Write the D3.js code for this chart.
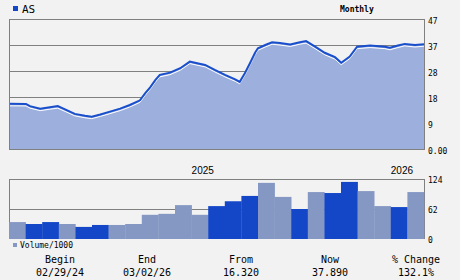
<!DOCTYPE html>
<html>
<head>
<meta charset="utf-8">
<script src="https://cdn.jsdelivr.net/npm/d3@7"></script>
<style>
  body { margin: 0; background: #f2f2f2; }
  svg { display: block; }
  text { font-family: "DejaVu Sans Mono", monospace; fill: #000; }
</style>
</head>
<body>
<script>
// price samples
var priceDates = ["2024-02-29","2024-03-30","2024-04-06","2024-04-24","2024-05-11","2024-05-25",
  "2024-06-07","2024-06-24","2024-07-12","2024-07-24","2024-08-08","2024-08-25","2024-09-12",
  "2024-09-29","2024-10-17","2024-10-26","2024-11-04","2024-11-13","2024-11-21","2024-12-09",
  "2024-12-27","2025-01-13","2025-01-22","2025-02-09","2025-02-26","2025-03-16","2025-04-03",
  "2025-04-11","2025-04-20","2025-04-29","2025-05-08","2025-05-13","2025-05-26","2025-06-07",
  "2025-06-21","2025-07-09","2025-07-26","2025-08-06","2025-08-22","2025-09-08","2025-09-26",
  "2025-10-07","2025-10-22","2025-11-04","2025-11-27","2025-12-23","2026-01-01","2026-01-15",
  "2026-01-27","2026-02-14","2026-03-02"];
var priceValues = [16.32,16.3,15.5,14.6,15.1,15.5,
  14.3,12.7,12.0,11.7,12.5,13.5,14.6,
  15.9,17.6,20.1,22.3,24.9,26.8,27.6,
  29.2,31.6,31.2,30.4,28.6,26.8,25.2,
  24.3,27.4,31.0,34.8,36.4,37.6,38.6,
  38.3,37.8,38.6,39.0,37.0,34.8,33.2,
  31.2,33.4,37.0,37.4,37.0,36.6,37.4,
  38.0,37.6,37.89];

var months = ["2024-02","2024-03","2024-04","2024-05","2024-06","2024-07","2024-08","2024-09",
  "2024-10","2024-11","2024-12","2025-01","2025-02","2025-03","2025-04","2025-05","2025-06",
  "2025-07","2025-08","2025-09","2025-10","2025-11","2025-12","2026-01","2026-02"];
var volumes = [35,31,35,31,25,29,29,31,50,52,70,50,68,78,89,116,87,62,97,95,118,99,68,66,97];
var volUp = [0,1,1,0,1,1,0,0,0,0,0,0,1,1,1,0,0,1,0,1,1,0,0,1,0];

var priceTicks = ["0.00","9","18","28","37","47"];
var volTicks = ["0","62","124"];
var yearLabels = [{ month: "2025-01", label: "2025" }, { month: "2026-01", label: "2026" }];

var summaryHeads = ["Begin","End","From","Now","% Change"];
var summaryVals = ["02/29/24","03/02/26","16.320","37.890","132.1%"];

var W = 460, H = 280;
var left = 9, right = 424;
var pTop = 19, pBot = 149;
var vTop = 179, vBot = 239;
var grey = "#808080";

var svg = d3.select("body").append("svg").attr("width", W).attr("height", H);

var parse = d3.timeParse("%Y-%m-%d");
var pts = priceDates.map(function(d, i) { return { date: parse(d), v: priceValues[i] }; });

var x = d3.scaleTime().domain([pts[0].date, pts[pts.length - 1].date]).range([left, right]);
var y = d3.scaleLinear().domain([0, 47]).range([pBot, pTop]);

// price grid
svg.selectAll(".pgrid").data(d3.range(6)).enter().append("line")
  .attr("x1", left).attr("x2", right)
  .attr("y1", function(i) { return pBot - i * (pBot - pTop) / 5 + 0.5; })
  .attr("y2", function(i) { return pBot - i * (pBot - pTop) / 5 + 0.5; })
  .style("stroke", grey);

var area = d3.area().x(function(d) { return x(d.date); }).y0(pBot).y1(function(d) { return y(d.v); });
var line = d3.line().x(function(d) { return x(d.date); }).y(function(d) { return y(d.v); });

svg.append("path").datum(pts).attr("d", area).style("fill", "#9db0dd");
svg.append("path").datum(pts).attr("d", line).attr("transform", "translate(0,2)")
  .style("fill", "none").style("stroke", "#ffffff").style("stroke-width", 1);
svg.append("path").datum(pts).attr("d", line)
  .style("fill", "none").style("stroke", "#1a4fcc").style("stroke-width", 2);

// frame
svg.append("line").attr("x1", left + 0.5).attr("x2", left + 0.5).attr("y1", pTop).attr("y2", pBot + 1).style("stroke", grey);
svg.append("line").attr("x1", right + 0.5).attr("x2", right + 0.5).attr("y1", pTop).attr("y2", pBot + 1).style("stroke", grey);
svg.append("line").attr("x1", left).attr("x2", right + 1).attr("y1", pBot + 0.5).attr("y2", pBot + 0.5).style("stroke", grey);

svg.selectAll(".ptick").data(priceTicks).enter().append("text")
  .attr("x", right + 4)
  .attr("y", function(d, i) { return pBot - i * (pBot - pTop) / 5 + 5; })
  .style("font-size", "8px")
  .text(function(d) { return d; });

// title
svg.append("rect").attr("x", 13).attr("y", 6).attr("width", 5).attr("height", 5).style("fill", "#1447c8");
svg.append("text").attr("x", 22).attr("y", 13).style("font-size", "11px").text("AS");
svg.append("text").attr("x", 340).attr("y", 12).style("font-size", "8px").style("font-weight", "bold").text("Monthly");

// volume
var xb = d3.scaleBand().domain(months).range([left, right]);
var yv = d3.scaleLinear().domain([0, 124]).range([vBot, vTop]);

svg.selectAll(".vgrid").data([62, 124]).enter().append("line")
  .attr("x1", left).attr("x2", right + 1)
  .attr("y1", function(d) { return Math.round(yv(d)) + 0.5; })
  .attr("y2", function(d) { return Math.round(yv(d)) + 0.5; })
  .style("stroke", grey);
svg.append("line").attr("x1", left + 0.5).attr("x2", left + 0.5).attr("y1", vTop).attr("y2", vBot).style("stroke", grey);
svg.append("line").attr("x1", right + 0.5).attr("x2", right + 0.5).attr("y1", vTop).attr("y2", vBot).style("stroke", grey);

svg.selectAll(".bar").data(volumes).enter().append("rect")
  .attr("x", function(d, i) { return xb(months[i]); })
  .attr("width", xb.bandwidth() + 0.3)
  .attr("y", function(d) { return yv(d); })
  .attr("height", function(d) { return vBot - yv(d); })
  .style("fill", function(d, i) { return volUp[i] ? "#1447c8" : "#8598c4"; });

svg.selectAll(".vtick").data(volTicks).enter().append("text")
  .attr("x", right + 4)
  .attr("y", function(d) { return yv(+d) + 4; })
  .style("font-size", "8px")
  .text(function(d) { return d; });

svg.selectAll(".year").data(yearLabels).enter().append("text")
  .attr("x", function(d) { return xb(d.month); })
  .attr("y", 174)
  .style("font-family", "'Liberation Sans', Arial, sans-serif")
  .style("font-size", "10px")
  .text(function(d) { return d.label; });

svg.append("rect").attr("x", 13).attr("y", 243).attr("width", 4).attr("height", 4).style("fill", "#8598c4");
svg.append("text").attr("x", 20).attr("y", 248).style("font-size", "8px").text("Volume/1000");

// summary
var cols = [60, 147, 241, 330, 416];
svg.selectAll(".shead").data(summaryHeads).enter().append("text")
  .attr("x", function(d, i) { return cols[i]; }).attr("y", 263)
  .attr("text-anchor", "middle").style("font-size", "10px")
  .text(function(d) { return d; });
svg.selectAll(".sval").data(summaryVals).enter().append("text")
  .attr("x", function(d, i) { return cols[i]; }).attr("y", 276)
  .attr("text-anchor", "middle").style("font-size", "10px")
  .text(function(d) { return d; });
</script>
</body>
</html>
